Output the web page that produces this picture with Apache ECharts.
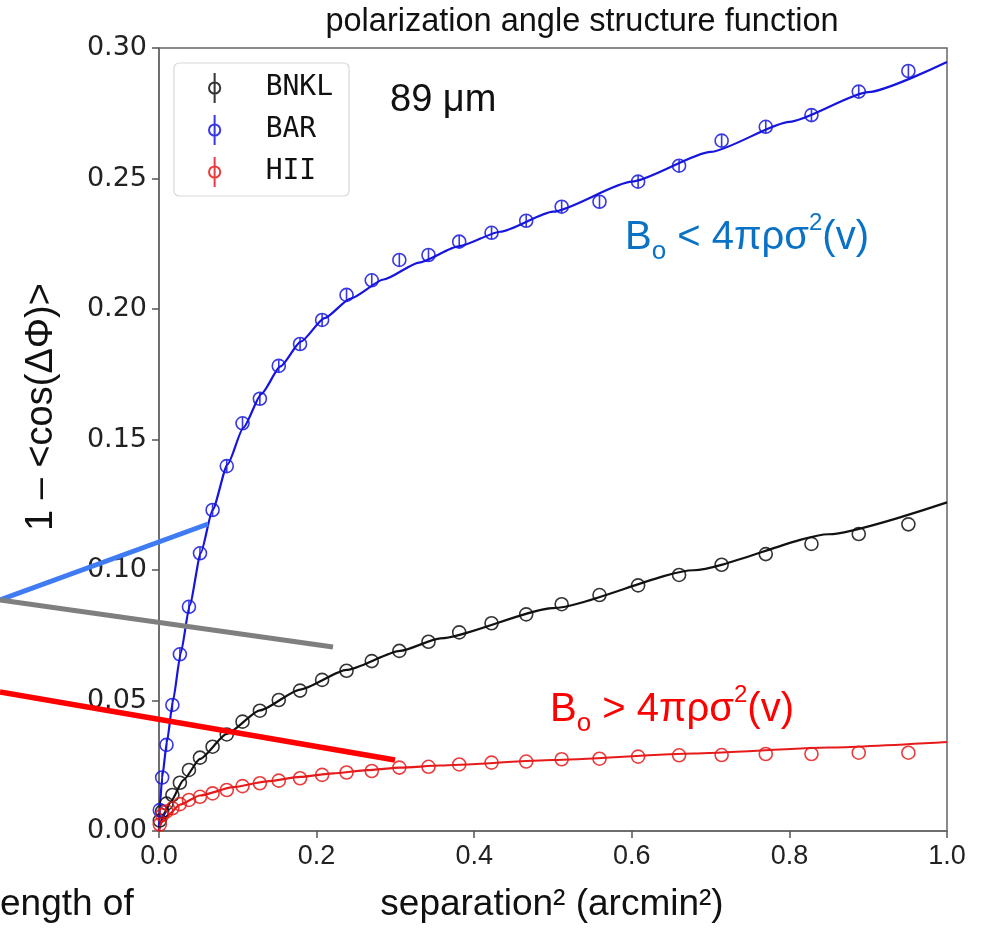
<!DOCTYPE html>
<html>
<head>
<meta charset="utf-8">
<script src="https://cdn.jsdelivr.net/npm/echarts@6/dist/echarts.min.js"></script>
<style>
  html, body { margin: 0; padding: 0; background: #fff; }
  #chart { width: 984px; height: 939px; }
</style>
</head>
<body>
<div id="chart"></div>
<script>
// squared separation of each lag bin (arcmin^2)
const sepSq = [0.001, 0.004, 0.0095, 0.017, 0.0265, 0.038, 0.052, 0.068, 0.086, 0.106,
               0.128, 0.152, 0.179, 0.207, 0.238, 0.270, 0.305, 0.342, 0.381, 0.422,
               0.466, 0.511, 0.559, 0.608, 0.660, 0.714, 0.770, 0.828, 0.888, 0.951];

// 1 - <cos(dPhi)> per region
const bnkl = [0.004, 0.0075, 0.0105, 0.0138, 0.0185, 0.0234, 0.0281, 0.0323, 0.037, 0.0419,
              0.0461, 0.0502, 0.0538, 0.0579, 0.0614, 0.0651, 0.069, 0.0725, 0.0761, 0.0796,
              0.083, 0.0869, 0.0904, 0.0941, 0.0981, 0.102, 0.1061, 0.110, 0.1138, 0.1175];
const bar  = [0.008, 0.0205, 0.033, 0.0483, 0.0677, 0.0859, 0.1064, 0.123, 0.1398, 0.1562,
              0.1656, 0.1782, 0.1866, 0.1958, 0.2054, 0.211, 0.2188, 0.2207, 0.2258, 0.2292,
              0.2338, 0.2392, 0.2411, 0.2488, 0.2549, 0.2645, 0.2698, 0.2743, 0.2833, 0.2912];
const hii  = [0.0025, 0.0061, 0.0075, 0.0087, 0.0103, 0.0119, 0.0131, 0.0144, 0.0157, 0.0172,
              0.0183, 0.0193, 0.0202, 0.0215, 0.0224, 0.023, 0.0243, 0.0246, 0.0255, 0.0262,
              0.0266, 0.0275, 0.0277, 0.0285, 0.029, 0.0291, 0.0295, 0.0295, 0.030, 0.030];

// fitted model curves
const fitBarX = [0, 0.001, 0.004, 0.01, 0.0175, 0.0275, 0.039, 0.053, 0.068, 0.087, 0.107, 0.13,
                 0.154, 0.18, 0.21, 0.243, 0.285, 0.33, 0.38, 0.433, 0.5, 0.6, 0.7, 0.8, 0.9, 1.0];
const fitBarY = [0, 0.0095, 0.0205, 0.034, 0.0495, 0.068, 0.0865, 0.1065, 0.123, 0.1405, 0.1545, 0.1675,
                 0.178, 0.1875, 0.1965, 0.204, 0.2113, 0.2178, 0.224, 0.2296, 0.2373, 0.2488, 0.2602, 0.2717, 0.2831, 0.2946];
const fitBnklX = [0, 0.002, 0.0076, 0.014, 0.031, 0.052, 0.086, 0.128, 0.179, 0.238, 0.306, 0.357,
                  0.5, 0.6785, 0.85, 1.0];
const fitBnklY = [0, 0.0035, 0.0072, 0.0108, 0.0195, 0.0276, 0.0372, 0.0462, 0.0542, 0.0617, 0.069, 0.0738,
                  0.0854, 0.0999, 0.1137, 0.1259];
const fitHiiX = [0, 0.001, 0.0034, 0.0098, 0.0267, 0.052, 0.094, 0.137, 0.179, 0.221, 0.264, 0.306,
                 0.357, 0.5, 0.6785, 0.85, 1.0];
const fitHiiY = [0, 0.0018, 0.0033, 0.0056, 0.0101, 0.0136, 0.0168, 0.019, 0.0207, 0.0221, 0.0233, 0.0243,
                 0.0251, 0.0272, 0.0297, 0.032, 0.0341];

const xTicks = ['0.0', '0.2', '0.4', '0.6', '0.8', '1.0'];
const yTicks = ['0.00', '0.05', '0.10', '0.15', '0.20', '0.25', '0.30'];

const names = ['BNKL', 'BAR', 'HII'];
const colors = ['#111111', '#1515dd', '#e61a1a'];

// open circle with a short error bar through it
const ringBar = 'path://M10,0 A10,10 0 1,1 -10,0 A10,10 0 1,1 10,0 Z M0,-10 L0,10';
const legendIcon = 'path://M0,-16 L0,16 M6,0 A6,6 0 1,1 -6,0 A6,6 0 1,1 6,0 Z';

const pairs = (xs, ys) => xs.map((x, i) => [x, ys[i]]);

const chart = echarts.init(document.getElementById('chart'), null, { renderer: 'canvas' });

const fitSeries = [[fitBnklX, fitBnklY], [fitBarX, fitBarY], [fitHiiX, fitHiiY]].map((f, i) => ({
  type: 'line',
  name: names[i] + ' fit',
  data: pairs(f[0], f[1]),
  showSymbol: false,
  smooth: 0.2,
  smoothMonotone: 'x',
  lineStyle: { color: colors[i], width: 2.2 },
  silent: true,
  z: 2
}));

const pointSeries = [bnkl, bar, hii].map((ys, i) => ({
  type: 'scatter',
  name: names[i],
  data: pairs(sepSq, ys),
  symbol: i === 1 ? ringBar : 'circle',
  symbolSize: 13,
  itemStyle: { color: 'rgba(0,0,0,0)', borderColor: colors[i], borderWidth: 1.6, opacity: 0.85 },
  z: 3
}));

const narrow = 'Liberation Sans Narrow, Liberation Sans, Arial, sans-serif';
const sans = 'Liberation Sans, Arial, sans-serif';

function formula(x, y, op, color) {
  return {
    type: 'text', x: x, y: y,
    style: {
      text: '{m|B}{s|o}{m| ' + op + ' 4πρσ}{p|2}{m|(v)}',
      fill: color,
      rich: {
        m: { fontSize: 40, fontFamily: narrow, lineHeight: 54, fill: color },
        s: { fontSize: 26, fontFamily: narrow, lineHeight: 26, verticalAlign: 'bottom', fill: color },
        p: { fontSize: 24, fontFamily: narrow, lineHeight: 12, verticalAlign: 'top', fill: color }
      }
    }
  };
}

chart.setOption({
  animation: false,
  backgroundColor: '#ffffff',
  grid: { left: 159, right: 37, top: 48, bottom: 108, show: true, borderColor: '#666', borderWidth: 1.5 },
  xAxis: {
    type: 'value', min: 0, max: 1, interval: 0.2,
    axisLine: { lineStyle: { color: '#666', width: 1.5 } },
    axisTick: { show: true, length: 7, lineStyle: { color: '#555', width: 1.5 } },
    splitLine: { show: false },
    axisLabel: { margin: 12, color: '#222', fontSize: 27, fontFamily: narrow,
                 formatter: v => xTicks[Math.round(v / 0.2)] }
  },
  yAxis: {
    type: 'value', min: 0, max: 0.3, interval: 0.05,
    axisLine: { show: true, lineStyle: { color: '#666', width: 1.5 } },
    axisTick: { show: true, length: 7, lineStyle: { color: '#555', width: 1.5 } },
    splitLine: { show: false },
    axisLabel: { margin: 12, color: '#222', fontSize: 27, fontFamily: 'DejaVu Sans',
                 formatter: v => yTicks[Math.round(v / 0.05)] }
  },
  legend: {
    orient: 'vertical', left: 174, top: 63,
    padding: [9, 16, 8, 34],
    itemWidth: 12, itemHeight: 30, itemGap: 10,
    backgroundColor: '#fff', borderColor: '#d8d8d8', borderWidth: 1.2, borderRadius: 5,
    textStyle: { fontFamily: 'DejaVu Sans Mono', fontSize: 28, lineHeight: 30, color: '#111', padding: [0, 0, 0, 40] },
    data: names.map((n, i) => ({
      name: n, icon: legendIcon,
      itemStyle: { color: 'rgba(0,0,0,0)', borderColor: colors[i], borderWidth: 2 }
    })),
    selectedMode: false
  },
  series: [...fitSeries, ...pointSeries],
  graphic: [
    { type: 'text', x: 582, y: 22, style: { text: 'polarization angle structure function', font: '32.5px ' + sans, fill: '#111', align: 'center', verticalAlign: 'middle' } },
    { type: 'text', x: 390, y: 82, style: { text: '89 μm', font: '38px ' + sans, fill: '#111' } },
    formula(625, 211, '<', '#0a72c4'),
    formula(550, 683, '>', '#ff0000'),
    { type: 'text', x: 552, y: 905, style: { text: 'separation² (arcmin²)', font: '37px ' + narrow, fill: '#111', align: 'center', verticalAlign: 'middle' } },
    { type: 'text', x: 0, y: 905, style: { text: 'ength of', font: '37px ' + narrow, fill: '#111', align: 'left', verticalAlign: 'middle' } },
    { type: 'text', x: 42, y: 407, rotation: Math.PI / 2, style: { text: '1 – <cos(ΔΦ)>', font: '38px ' + sans, fill: '#111', align: 'center', verticalAlign: 'middle' } },
    // pointer strokes from the side caption
    { type: 'line', z: 100, shape: { x1: 0, y1: 600, x2: 208, y2: 524 }, style: { stroke: '#3f7cf4', lineWidth: 5 } },
    { type: 'line', z: 100, shape: { x1: 0, y1: 600, x2: 333, y2: 647 }, style: { stroke: '#7f7f7f', lineWidth: 5 } },
    { type: 'line', z: 100, shape: { x1: 0, y1: 692, x2: 395, y2: 760 }, style: { stroke: '#ff0000', lineWidth: 5.5 } }
  ]
});
</script>
</body>
</html>
